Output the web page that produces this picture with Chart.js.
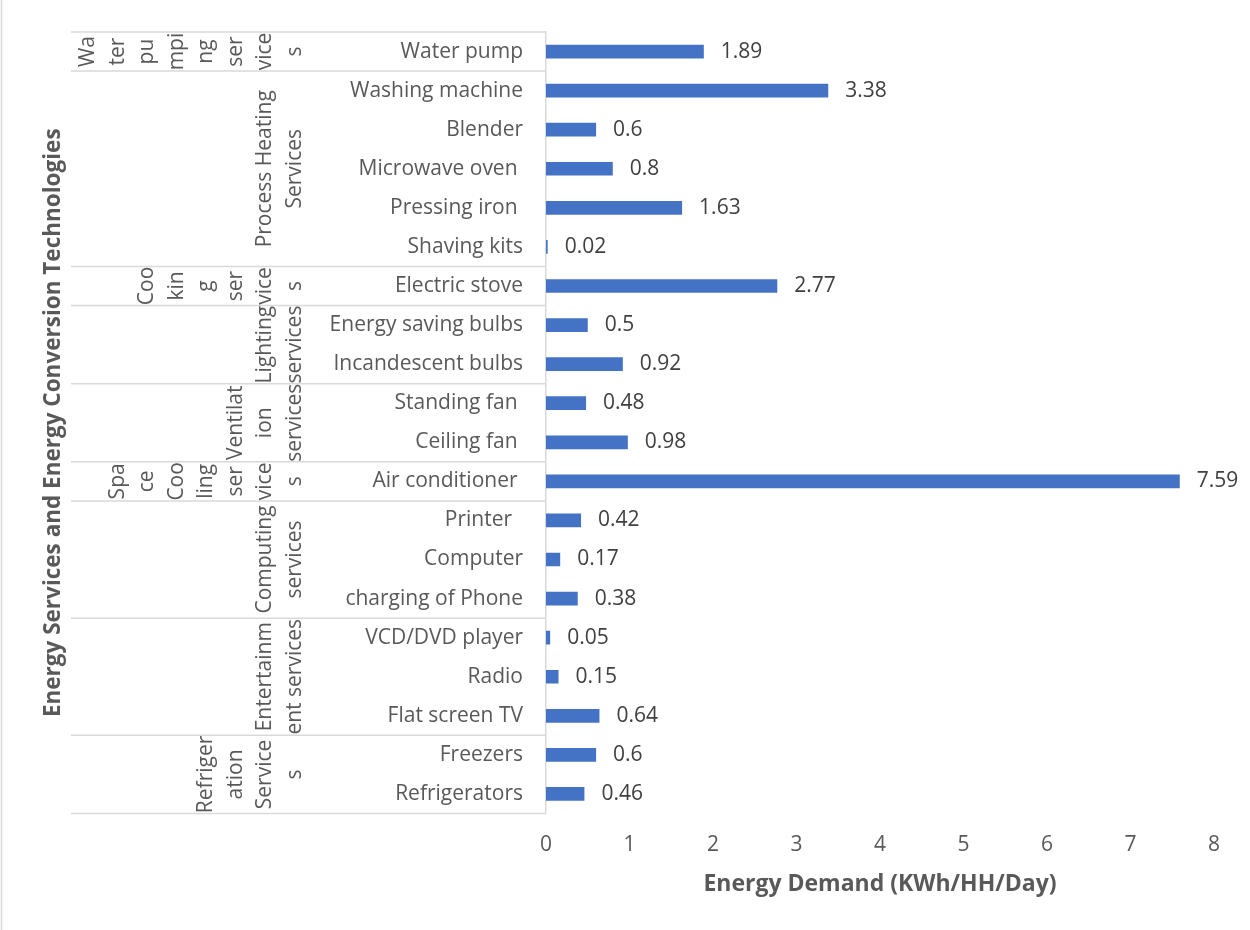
<!DOCTYPE html>
<html>
<head>
<meta charset="utf-8">
<script src="https://cdn.jsdelivr.net/npm/chart.js@4.4.1/dist/chart.umd.min.js"></script>
<style>
  body { margin: 0; background: #fff; }
  canvas { display: block; }
</style>
</head>
<body>
<canvas id="energyChart" width="1250" height="930"></canvas>
<script>
// appliances, top to bottom as in the picture
const appliances = ['Water pump', 'Washing machine', 'Blender', 'Microwave oven ', 'Pressing iron ', 'Shaving kits',
    'Electric stove', 'Energy saving bulbs', 'Incandescent bulbs', 'Standing fan ', 'Ceiling fan ',
    'Air conditioner ', 'Printer  ', 'Computer', 'charging of Phone', 'VCD/DVD player', 'Radio',
    'Flat screen TV', 'Freezers', 'Refrigerators'];
const demand = [1.89, 3.38, 0.6, 0.8, 1.63, 0.02, 2.77, 0.5, 0.92, 0.48, 0.98, 7.59, 0.42, 0.17, 0.38, 0.05, 0.15, 0.64, 0.6, 0.46];

// service groups (how many appliances each one covers) and their wrapped labels
const groupSizes = [1, 5, 1, 2, 2, 1, 3, 3, 2];
const groupLabels = [
    ['Wa', 'ter', 'pu', 'mpi', 'ng', 'ser', 'vice', 's'],
    ['Process Heating', 'Services'],
    ['Coo', 'kin', 'g', 'ser', 'vice', 's'],
    ['Lighting', 'services'],
    ['Ventilat', 'ion', 'services'],
    ['Spa', 'ce', 'Coo', 'ling', 'ser', 'vice', 's'],
    ['Computing', 'services'],
    ['Entertainm', 'ent services'],
    ['Refriger', 'ation', 'Service', 's']
];

const xTicks = [0, 1, 2, 3, 4, 5, 6, 7, 8];

Chart.defaults.font.family = "'Open Sans', sans-serif";

const groupPlugin = {
    id: 'groupPlugin',
    afterDraw(chart) {
        const ctx = chart.ctx;
        const yScale = chart.scales.y;
        const area = chart.chartArea;
        const half = (yScale.getPixelForValue(1) - yScale.getPixelForValue(0)) / 2;

        ctx.save();
        // chart border, left side
        ctx.strokeStyle = '#d9d9d9';
        ctx.lineWidth = 1.5;
        ctx.beginPath();
        ctx.moveTo(1.5, 0);
        ctx.lineTo(1.5, 930);
        ctx.stroke();

        let start = 0;
        const bounds = [yScale.getPixelForValue(0) - half];
        groupSizes.forEach(n => {
            bounds.push(yScale.getPixelForValue(start + n - 1) + half);
            start += n;
        });
        bounds.forEach(b => {
            ctx.beginPath();
            ctx.moveTo(71, b);
            ctx.lineTo(area.left, b);
            ctx.stroke();
        });

        // group labels, rotated
        ctx.fillStyle = '#595959';
        ctx.font = "21px 'Open Sans'";
        ctx.textAlign = 'center';
        ctx.textBaseline = 'middle';
        groupLabels.forEach((lines, g) => {
            const yc = (bounds[g] + bounds[g + 1]) / 2;
            lines.forEach((line, i) => {
                const x = 295 - (lines.length - 1 - i) * 29.5;
                ctx.save();
                ctx.translate(x, yc);
                ctx.rotate(-Math.PI / 2);
                ctx.fillText(line, 0, 0);
                ctx.restore();
            });
        });

        // value labels
        ctx.fillStyle = '#404040';
        ctx.textAlign = 'left';
        const meta = chart.getDatasetMeta(0);
        meta.data.forEach((bar, i) => {
            ctx.fillText(String(demand[i]), bar.x + 17, bar.y);
        });
        ctx.restore();
    }
};

new Chart(document.getElementById('energyChart').getContext('2d'), {
    type: 'bar',
    data: {
        labels: appliances,
        datasets: [{
            data: demand,
            backgroundColor: '#4472C4',
            categoryPercentage: 1,
            barPercentage: 0.35
        }]
    },
    options: {
        indexAxis: 'y',
        responsive: false,
        animation: false,
        layout: { padding: { top: 32, right: 36, bottom: 0, left: 0 } },
        plugins: {
            legend: { display: false },
            tooltip: { enabled: false }
        },
        scales: {
            x: {
                min: xTicks[0],
                max: xTicks[xTicks.length - 1],
                afterFit: s => { s.height = 116.5; },
                afterBuildTicks: s => { s.ticks = xTicks.map(v => ({ value: v })); },
                grid: { display: false, drawTicks: false },
                border: { display: false },
                ticks: { color: '#595959', font: { size: 21 }, padding: 19 },
                title: {
                    display: true,
                    text: 'Energy Demand (KWh/HH/Day)',
                    color: '#595959',
                    font: { size: 23, weight: 'bold' },
                    padding: { top: 0, bottom: 32 }
                }
            },
            y: {
                afterFit: s => {
                    s.width = 546;
                    s.paddingTop = 0;
                    s.paddingBottom = 0;
                },
                grid: { display: false, drawTicks: false },
                border: { display: true, color: '#d9d9d9', width: 1.5 },
                ticks: { color: '#595959', font: { size: 21 }, padding: 23 },
                title: {
                    display: true,
                    text: 'Energy Services and Energy Conversion Technologies',
                    color: '#595959',
                    font: { size: 22.5, weight: 'bold' },
                    padding: { top: 40, bottom: 0 }
                }
            }
        }
    },
    plugins: [groupPlugin]
});
</script>
</body>
</html>
